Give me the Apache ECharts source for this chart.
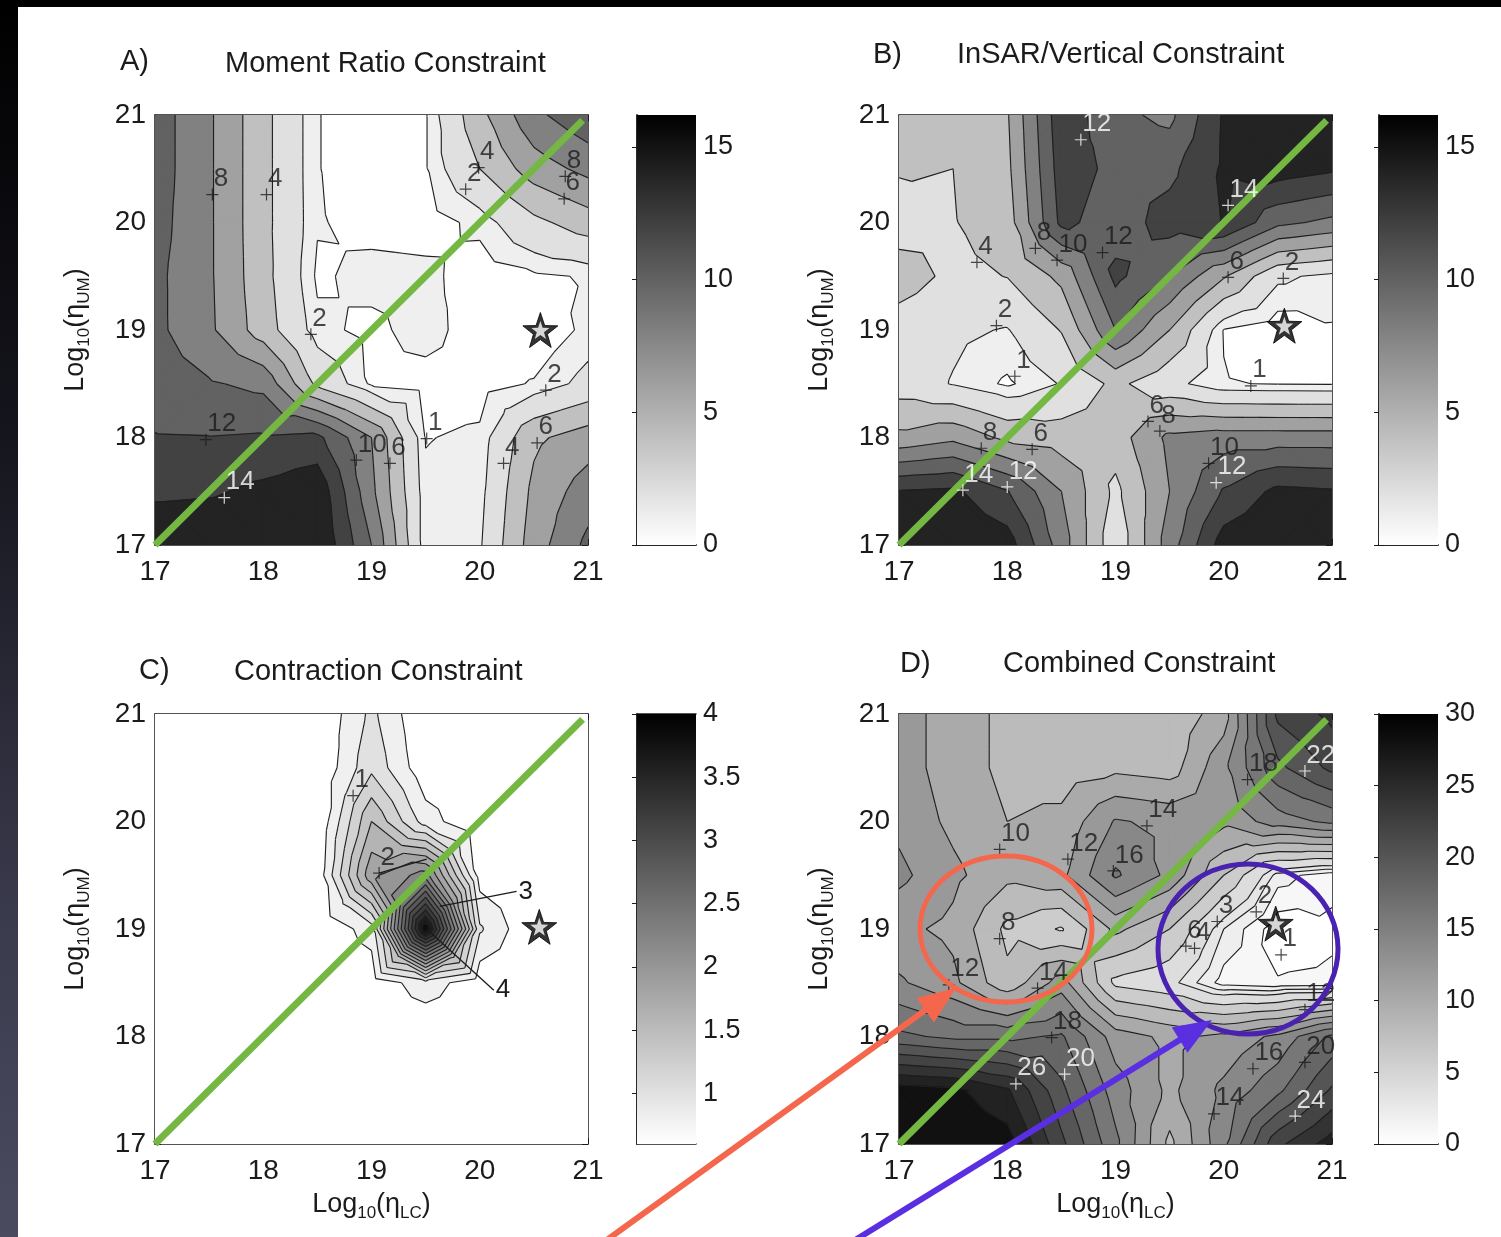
<!DOCTYPE html>
<html>
<head>
<meta charset="utf-8">
<title>Viscosity constraints</title>
<script src="https://cdn.jsdelivr.net/npm/echarts@6/dist/echarts.min.js"></script>
<style>
html, body { margin: 0; padding: 0; background: #fff; }
#chart { position: absolute; left: 0; top: 0; width: 1501px; height: 1237px; }
#edgeTop { position: absolute; left: 0; top: 0; width: 1501px; height: 7px; background: #000; }
#edgeLeft { position: absolute; left: 0; top: 0; width: 18px; height: 1237px; background: linear-gradient(#000 0%, #15151d 35%, #3b3b4e 75%, #4b4b5f 100%); }
</style>
</head>
<body>
<div id="chart"></div>
<div id="edgeTop"></div>
<div id="edgeLeft"></div>
<script>
// grid nodes of log10(eta) for both axes
const gridNodes = [17, 17.5, 18, 18.5, 19, 19.5, 20, 20.5, 21];

// misfit values, one row per log10(eta_UM) node (17 at the bottom), columns log10(eta_LC)
const momentRatio = [
    [16, 16, 16, 16, 10, 1.2, 1.8, 7, 10.5],
    [13.5, 13.7, 14.5, 15.5, 8.5, 1.2, 1.5, 6.5, 9],
    [12.1, 12.05, 12.2, 12.5, 8, 0.95, 1.2, 5.6, 7],
    [11, 10.2, 9.5, 3.5, 0.8, 0.5, 0.5, 1.1, 2.5],
    [10.5, 8.4, 5, 1.3, 0.7, 1.5, 0.3, 0.1, 1.3],
    [10.5, 8.3, 4.7, 0.8, 1.4, 1.3, 0.4, 0.8, 1.1],
    [10.8, 8.3, 4.6, 1.1, 0.6, 0.5, 1.3, 3.5, 5],
    [11, 8.3, 4.6, 1.05, 0.3, 0.9, 4.0, 7, 8.6],
    [11, 8.3, 4.6, 1.05, 0.3, 0.9, 5.4, 9.5, 11.5]
];
const insarVertical = [
    [16, 16, 15, 9, 2.5, 9, 15, 16, 16],
    [14.1, 14.4, 12.1, 8, 3.5, 8, 12.2, 14.5, 14.2],
    [6.5, 7.5, 5.5, 5, 5, 8.5, 9, 9, 9],
    [3, 1.9, 0.8, 2.1, 4.5, 2.5, 1.05, 0.95, 0.9],
    [3, 2.3, 1.9, 4.1, 10, 6, 0.95, 0.3, 0.9],
    [5, 3.5, 4.05, 6.5, 12.5, 10, 6.2, 2.3, 1.6],
    [3, 3.9, 5, 12.5, 11, 12.8, 14.1, 10.5, 9.5],
    [4.2, 4.0, 5.5, 13, 11.5, 11.5, 14.3, 15, 14.3],
    [4.5, 4.6, 5.8, 13.4, 10.5, 9.5, 14.2, 16, 16]
];
const contraction = [
    [0.6, 0.6, 0.6, 0.6, 0.6, 0.6, 0.6, 0.6, 0.6],
    [0.6, 0.6, 0.6, 0.6, 0.6, 0.6, 0.6, 0.6, 0.6],
    [0.6, 0.6, 0.6, 0.6, 0.6, 0.6, 0.6, 0.6, 0.6],
    [0.6, 0.6, 0.6, 0.6, 0.65, 0.92, 0.65, 0.6, 0.6],
    [0.6, 0.6, 0.6, 0.6, 0.9, 4.0, 1.03, 0.6, 0.6],
    [0.6, 0.6, 0.6, 0.65, 1.95, 2.3, 0.7, 0.6, 0.6],
    [0.6, 0.6, 0.6, 0.6, 1.6, 0.9, 0.6, 0.6, 0.6],
    [0.6, 0.6, 0.6, 0.6, 1.15, 0.65, 0.6, 0.6, 0.6],
    [0.6, 0.6, 0.6, 0.6, 1.05, 0.6, 0.6, 0.6, 0.6]
];
const combined = [
    [30, 30, 29, 22.5, 16.5, 9.5, 15.5, 23.5, 27],
    [29, 28.5, 26.3, 20.5, 15, 11.5, 14.5, 17.5, 22.3],
    [18.5, 17.5, 17.5, 18.3, 13, 11.5, 12.5, 14.5, 18.5],
    [14.3, 12.5, 8.5, 13, 5.5, 4.5, 1.5, 1.1, 1.2],
    [12.5, 11.5, 7.5, 5.8, 10.5, 8, 3, 0.3, 0.8],
    [14.5, 12.5, 10.5, 11.5, 16.3, 13.5, 8, 2.5, 1.3],
    [13.5, 11.5, 10, 10.5, 14.2, 13.5, 12.5, 15, 16.5],
    [13, 11, 9.5, 9, 9.5, 9, 13.5, 19.5, 22.5],
    [13, 11, 9.5, 9.5, 9.5, 8.5, 11, 22.5, 24.5]
];

const momentLevels = [1, 2, 4, 6, 8, 10, 12, 14];
const insarLevels = [1, 2, 4, 6, 8, 10, 12, 14];
const contractionLevels = [0.8, 1, 1.2, 1.4, 1.6, 1.8, 2, 2.2, 2.4, 2.6, 2.8, 3, 3.2, 3.4, 3.6, 3.8];
const combinedLevels = [1, 2, 3, 4, 6, 8, 10, 12, 14, 16, 18, 20, 22, 24, 26, 28];

const axisTicks = [17, 18, 19, 20, 21];
const momentBarTicks = [0, 5, 10, 15];
const insarBarTicks = [0, 5, 10, 15];
const contractionBarTicks = [1, 1.5, 2, 2.5, 3, 3.5, 4];
const combinedBarTicks = [0, 5, 10, 15, 20, 25, 30];

// contour labels: [log10 eta_LC, log10 eta_UM, text, white]
const momentLabels = [
    [17.53, 20.26, '8', 0], [18.03, 20.26, '4', 0], [19.99, 20.51, '4', 0], [19.87, 20.31, '2', 0],
    [20.79, 20.43, '8', 0], [20.78, 20.22, '6', 0], [18.44, 18.96, '2', 0], [17.47, 17.98, '12', 0],
    [17.64, 17.44, '14', 1], [18.86, 17.79, '10', 0], [19.17, 17.76, '6', 0], [19.51, 17.99, '1', 0],
    [20.22, 17.76, '4', 0], [20.53, 17.95, '6', 0], [20.61, 18.44, '2', 0]
];
const insarLabels = [
    [18.68, 20.77, '12', 1], [20.04, 20.16, '14', 1], [17.72, 19.63, '4', 0], [18.26, 19.76, '8', 0],
    [18.46, 19.65, '10', 0], [18.88, 19.72, '12', 0], [20.04, 19.49, '6', 0], [20.55, 19.48, '2', 0],
    [17.9, 19.04, '2', 0], [18.07, 18.57, '1', 0], [20.25, 18.48, '1', 0], [19.3, 18.15, '6', 0],
    [19.41, 18.06, '8', 0], [19.86, 17.76, '10', 0], [19.93, 17.58, '12', 1], [17.76, 17.9, '8', 0],
    [18.23, 17.89, '6', 0], [18.0, 17.54, '12', 1], [17.59, 17.51, '14', 1]
];
const contractionLabels = [[18.83, 20.24, '1', 0], [19.07, 19.52, '2', 0]];
const contractionLeaders = [
    [[19.07, 19.52], [19.51, 19.65], ''],
    [[19.63, 19.21], [20.34, 19.35], '3'],
    [[19.51, 19.0], [20.13, 18.43], '4']
];
const combinedLabels = [
    [17.93, 19.74, '10', 0], [18.56, 19.65, '12', 0], [18.98, 19.54, '16', 0], [19.29, 19.96, '14', 0],
    [20.22, 20.39, '18', 0], [20.75, 20.47, '22', 1], [17.93, 18.91, '8', 0], [19.65, 18.84, '6', 0],
    [19.73, 18.82, '4', 0], [19.94, 19.07, '3', 0], [20.3, 19.16, '2', 0], [20.53, 18.76, '1', 0],
    [17.46, 18.48, '12', 0], [18.28, 18.45, '14', 0], [18.41, 17.99, '18', 0], [18.08, 17.56, '26', 1],
    [18.53, 17.65, '20', 1], [19.91, 17.28, '14', 0], [20.27, 17.7, '16', 0], [20.75, 17.76, '20', 0],
    [20.75, 18.25, '12', 0], [20.66, 17.26, '24', 1]
];

const bestFit = [[20.56, 19.0], [20.56, 19.04], [20.55, 19.02], [20.48, 19.05]];
const equalViscosity = [[17, 17], [20.95, 20.95]];

const fontFamily = '"Liberation Sans", Arial, sans-serif';
const ink = '#1b1b1b';

function gray(v, cmin, cmax) {
    let t = (v - cmin) / (cmax - cmin);
    t = Math.max(0, Math.min(1, t));
    const g = Math.round(255 * (1 - t));
    return 'rgb(' + g + ',' + g + ',' + g + ')';
}

function clip(poly, f) {
    const out = [];
    for (let k = 0; k < poly.length; k++) {
        const a = poly[k], b = poly[(k + 1) % poly.length];
        const da = f(a), db = f(b);
        if (da >= 0) out.push(a);
        if ((da >= 0) !== (db >= 0)) {
            const s = da / (da - db);
            out.push([a[0] + s * (b[0] - a[0]), a[1] + s * (b[1] - a[1]), a[2] + s * (b[2] - a[2])]);
        }
    }
    return out;
}

function cells(z) {
    const out = [];
    for (let j = 0; j < gridNodes.length - 1; j++) {
        for (let i = 0; i < gridNodes.length - 1; i++) {
            out.push([gridNodes[i], gridNodes[j], gridNodes[i + 1], gridNodes[j + 1],
                z[j][i], z[j][i + 1], z[j + 1][i], z[j + 1][i + 1]]);
        }
    }
    return out;
}

function splitCell(api) {
    const x0 = api.value(0), y0 = api.value(1), x1 = api.value(2), y1 = api.value(3);
    const c = [[x0, y0, api.value(4)], [x1, y0, api.value(5)], [x1, y1, api.value(7)], [x0, y1, api.value(6)]];
    const m = [(x0 + x1) / 2, (y0 + y1) / 2, (c[0][2] + c[1][2] + c[2][2] + c[3][2]) / 4];
    return [[c[0], c[1], m], [c[1], c[2], m], [c[2], c[3], m], [c[3], c[0], m]];
}

function fillRenderer(levels, cmin, cmax) {
    const edges = [-Infinity].concat(levels, [Infinity]);
    return function (params, api) {
        const children = [];
        splitCell(api).forEach(function (tri) {
            for (let b = 0; b < edges.length - 1; b++) {
                const lo = edges[b], hi = edges[b + 1];
                let poly = clip(tri, function (p) { return p[2] - lo; });
                poly = clip(poly, function (p) { return hi - p[2]; });
                if (poly.length < 3) continue;
                const fill = gray(b === 0 ? cmin : lo, cmin, cmax);
                children.push({
                    type: 'polygon',
                    shape: { points: poly.map(function (p) { return api.coord([p[0], p[1]]); }) },
                    style: { fill: fill, stroke: fill, lineWidth: 1.3 }
                });
            }
        });
        return { type: 'group', children: children };
    };
}

function lineRenderer(levels) {
    return function (params, api) {
        const children = [];
        splitCell(api).forEach(function (tri) {
            levels.forEach(function (lv) {
                const pts = [];
                for (let k = 0; k < 3; k++) {
                    const a = tri[k], b = tri[(k + 1) % 3];
                    const da = a[2] - lv, db = b[2] - lv;
                    if ((da < 0) !== (db < 0)) {
                        const s = da / (da - db);
                        pts.push(api.coord([a[0] + s * (b[0] - a[0]), a[1] + s * (b[1] - a[1])]));
                    }
                }
                if (pts.length === 2) {
                    children.push({
                        type: 'line',
                        shape: { x1: pts[0][0], y1: pts[0][1], x2: pts[1][0], y2: pts[1][1] },
                        style: { stroke: '#1e1e1e', lineWidth: 1.1 }
                    });
                }
            });
        });
        return { type: 'group', children: children };
    };
}

function barRenderer(params, api) {
    const p0 = api.coord([api.value(0), api.value(3)]);
    const p1 = api.coord([api.value(2), api.value(1)]);
    return {
        type: 'rect',
        shape: { x: p0[0], y: p0[1], width: p1[0] - p0[0], height: p1[1] - p0[1] },
        style: {
            fill: new echarts.graphic.LinearGradient(0, 0, 0, 1, [
                { offset: 0, color: '#000' },
                { offset: 1, color: '#fff' }
            ])
        }
    };
}

const nameRich = {
    n: { fontSize: 27, fontFamily: fontFamily, color: ink, lineHeight: 34 },
    s: { fontSize: 17, fontFamily: fontFamily, color: ink, lineHeight: 17, verticalAlign: 'bottom' }
};

function plotAxis(gridIndex, position, showLabels, name) {
    const vertical = position === 'left' || position === 'right';
    return {
        gridIndex: gridIndex,
        type: 'value',
        position: position,
        min: 17,
        max: 21,
        interval: 1,
        axisLine: { show: true, onZero: false, lineStyle: { color: ink, width: 1.5 } },
        axisTick: { show: true, inside: true, length: 6, lineStyle: { color: ink, width: 1 } },
        axisLabel: { show: showLabels, fontSize: 28, color: ink, fontFamily: fontFamily, margin: vertical ? 9 : 13 },
        splitLine: { show: false },
        name: name || '',
        nameLocation: 'middle',
        nameRotate: vertical ? 90 : 0,
        nameGap: vertical ? 62 : 44,
        nameTextStyle: { rich: nameRich }
    };
}

function labelSeries(list, xi, yi) {
    return {
        type: 'scatter',
        xAxisIndex: xi,
        yAxisIndex: yi,
        z: 5,
        silent: true,
        symbol: 'path://M5,0V10M0,5H10',
        symbolSize: 12,
        data: list.map(function (d) {
            const c = d[3] ? '#fff' : ink;
            return {
                value: [d[0], d[1]],
                itemStyle: { color: 'transparent', borderColor: c, borderWidth: 1.2 },
                label: {
                    show: true, formatter: d[2], color: c, position: [8, -22],
                    fontSize: 26, fontFamily: fontFamily
                }
            };
        })
    };
}

const panels = [
    { z: momentRatio, levels: momentLevels, cmin: 0, cmax: 16.2, bar: momentBarTicks, labels: momentLabels,
      star: bestFit[0], left: 155, top: 115, barLeft: 637, xName: false },
    { z: insarVertical, levels: insarLevels, cmin: 0, cmax: 16.2, bar: insarBarTicks, labels: insarLabels,
      star: bestFit[1], left: 899, top: 115, barLeft: 1379, xName: false },
    { z: contraction, levels: contractionLevels, cmin: 0.6, cmax: 4, bar: contractionBarTicks, labels: contractionLabels,
      star: bestFit[2], left: 155, top: 714, barLeft: 637, xName: true, leaders: contractionLeaders },
    { z: combined, levels: combinedLevels, cmin: 0, cmax: 30, bar: combinedBarTicks, labels: combinedLabels,
      star: bestFit[3], left: 899, top: 714, barLeft: 1379, xName: true }
];

const yName = '{n|Log}{s|10}{n|(η}{s|UM}{n|)}';
const xName = '{n|Log}{s|10}{n|(η}{s|LC}{n|)}';
const starPath = 'path://M0,-10L2.35,-3.24L9.51,-3.09L3.8,1.24L5.88,8.09L0,4L-5.88,8.09L-3.8,1.24L-9.51,-3.09L-2.35,-3.24Z';

const grid = [], xAxis = [], yAxis = [], series = [];

panels.forEach(function (p) {
    const g = grid.length;
    grid.push({ left: p.left, top: p.top, width: 433, height: 430 });
    const xi = xAxis.length;
    xAxis.push(plotAxis(g, 'bottom', true, p.xName ? xName : ''));
    xAxis.push(plotAxis(g, 'top', false));
    const yi = yAxis.length;
    yAxis.push(plotAxis(g, 'left', true, yName));
    yAxis.push(plotAxis(g, 'right', false));

    series.push({
        type: 'custom', xAxisIndex: xi, yAxisIndex: yi, silent: true, clip: true, z: 1,
        data: cells(p.z), renderItem: fillRenderer(p.levels, p.cmin, p.cmax)
    });
    series.push({
        type: 'custom', xAxisIndex: xi, yAxisIndex: yi, silent: true, clip: true, z: 2,
        data: cells(p.z), renderItem: lineRenderer(p.levels)
    });
    series.push({
        type: 'line', xAxisIndex: xi, yAxisIndex: yi, silent: true, z: 4, clip: false,
        data: equalViscosity, symbol: 'none',
        lineStyle: { color: '#74b843', width: 7, cap: 'butt' }
    });
    series.push(labelSeries(p.labels, xi, yi));
    (p.leaders || []).forEach(function (ld) {
        series.push({
            type: 'line', xAxisIndex: xi, yAxisIndex: yi, silent: true, z: 5,
            data: [ld[0], ld[1]], symbol: 'none',
            lineStyle: { color: ink, width: 1.3 },
            endLabel: { show: ld[2] !== '', formatter: ld[2], color: ink, fontSize: 26, fontFamily: fontFamily, distance: 2 }
        });
    });
    // best-fit star: black star with a white core
    series.push({
        type: 'scatter', xAxisIndex: xi, yAxisIndex: yi, silent: true, z: 6,
        data: [p.star], symbol: starPath, symbolSize: 35,
        itemStyle: { color: '#000', borderColor: '#000', borderWidth: 1 }
    });
    series.push({
        type: 'scatter', xAxisIndex: xi, yAxisIndex: yi, silent: true, z: 7,
        data: [p.star], symbol: starPath, symbolSize: 18,
        itemStyle: { color: '#fff' }
    });

    // colour bar
    const cg = grid.length;
    grid.push({ left: p.barLeft, top: p.top, width: 59, height: 430 });
    const cx = xAxis.length;
    xAxis.push({ gridIndex: cg, type: 'value', min: 0, max: 1, show: false });
    const cy = yAxis.length;
    yAxis.push({
        gridIndex: cg, type: 'value', position: 'right', min: p.cmin, max: p.cmax,
        axisLine: { show: true, lineStyle: { color: ink, width: 1.5 } },
        axisTick: { show: true, inside: true, length: 5, customValues: p.bar, lineStyle: { color: ink } },
        axisLabel: { show: true, customValues: p.bar, fontSize: 27, color: ink, fontFamily: fontFamily, margin: 7 },
        splitLine: { show: false }
    });
    yAxis.push({
        gridIndex: cg, type: 'value', position: 'left', min: p.cmin, max: p.cmax,
        axisLine: { show: true, lineStyle: { color: ink, width: 1.5 } },
        axisTick: { show: true, inside: true, length: 5, customValues: p.bar, lineStyle: { color: ink } },
        axisLabel: { show: false },
        splitLine: { show: false }
    });
    xAxis.push({
        gridIndex: cg, type: 'value', position: 'top', min: 0, max: 1,
        axisLine: { show: true, lineStyle: { color: ink, width: 1.5 } },
        axisTick: { show: false }, axisLabel: { show: false }, splitLine: { show: false }
    });
    xAxis.push({
        gridIndex: cg, type: 'value', position: 'bottom', min: 0, max: 1,
        axisLine: { show: true, lineStyle: { color: ink, width: 1.5 } },
        axisTick: { show: false }, axisLabel: { show: false }, splitLine: { show: false }
    });
    series.push({
        type: 'custom', xAxisIndex: cx, yAxisIndex: cy, silent: true, z: 1,
        data: [[0, p.cmin, 1, p.cmax]], renderItem: barRenderer
    });
});

const titles = [
    ['A)', 120, 47], ['Moment Ratio Constraint', 225, 49],
    ['B)', 873, 40], ['InSAR/Vertical Constraint', 957, 40],
    ['C)', 139, 656], ['Contraction Constraint', 234, 657],
    ['D)', 900, 649], ['Combined Constraint', 1003, 649]
];

function arrow(x0, y0, x1, y1, color) {
    const dx = x1 - x0, dy = y1 - y0, len = Math.hypot(dx, dy);
    const ux = dx / len, uy = dy / len, hl = 38, hw = 15;
    const bx = x1 - ux * hl, by = y1 - uy * hl;
    return [
        { type: 'line', z: 100, shape: { x1: x0, y1: y0, x2: bx + ux * 4, y2: by + uy * 4 }, style: { stroke: color, lineWidth: 6 } },
        { type: 'polygon', z: 100, shape: { points: [[x1, y1], [bx - uy * hw, by + ux * hw], [bx + uy * hw, by - ux * hw]] }, style: { fill: color } }
    ];
}

const graphic = [
    { type: 'ellipse', z: 100, shape: { cx: 1006, cy: 929, rx: 86, ry: 73 }, style: { fill: 'none', stroke: '#f4674d', lineWidth: 5 } },
    { type: 'ellipse', z: 100, shape: { cx: 1248, cy: 949, rx: 90, ry: 85 }, style: { fill: 'none', stroke: '#4a22b2', lineWidth: 5 } }
].concat(arrow(604, 1242, 956, 988, '#f4674d'), arrow(852, 1242, 1212, 1020, '#5a2fe2'));

const chart = echarts.init(document.getElementById('chart'));
chart.setOption({
    animation: false,
    backgroundColor: '#fff',
    title: titles.map(function (t) {
        return {
            text: t[0], left: t[1], top: t[2], padding: 0,
            textStyle: { fontSize: 29, fontWeight: 'normal', color: ink, fontFamily: fontFamily }
        };
    }),
    grid: grid,
    xAxis: xAxis,
    yAxis: yAxis,
    series: series,
    graphic: graphic
});
</script>
</body>
</html>
